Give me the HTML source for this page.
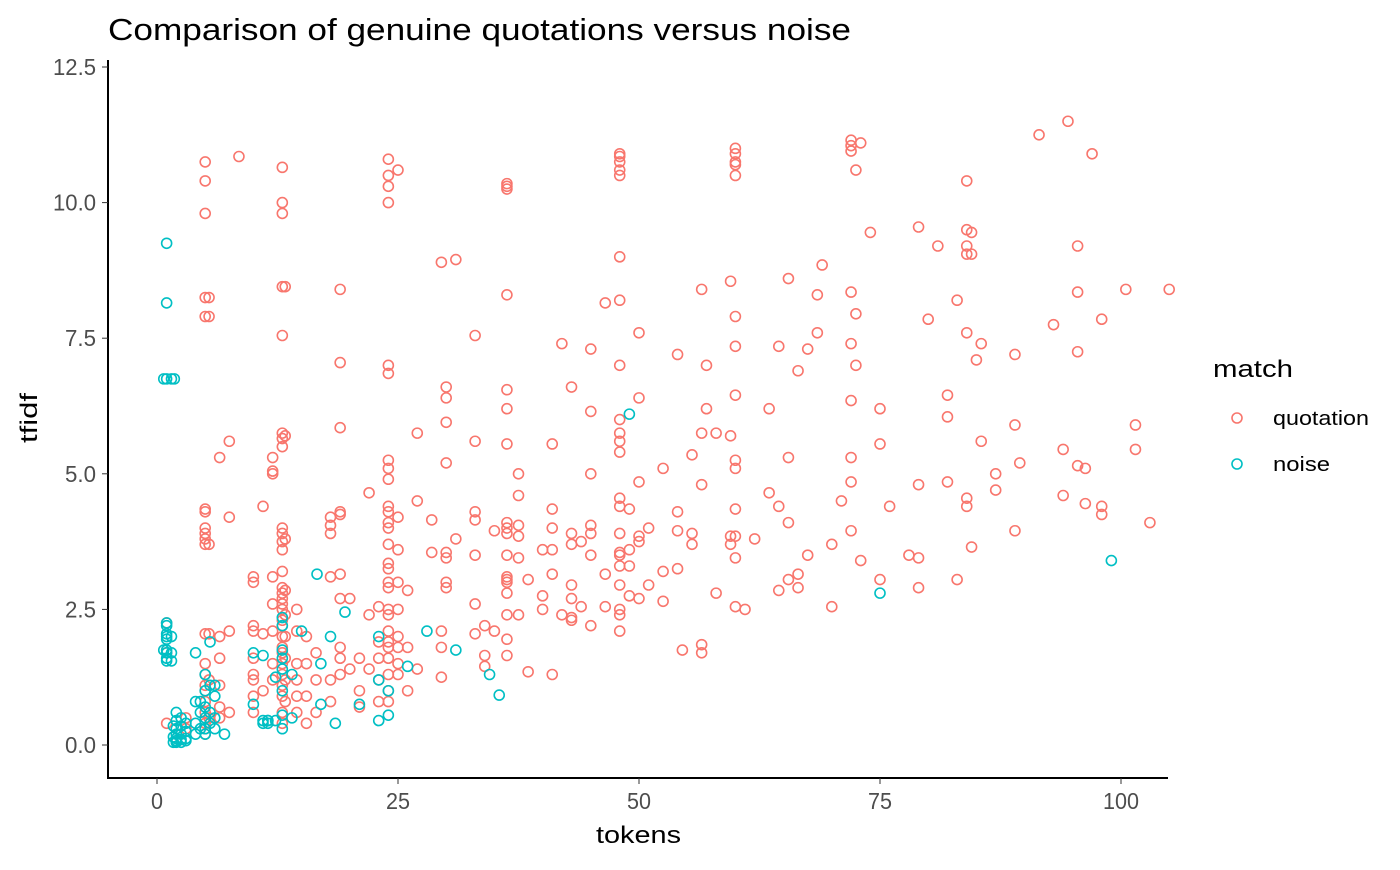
<!DOCTYPE html>
<html><head><meta charset="utf-8"><style>
html,body{margin:0;padding:0;background:#fff;}
svg text{font-family:"Liberation Sans",Arial,sans-serif;}
</style></head><body>
<svg id="chart" width="1400" height="865" viewBox="0 0 1400 865" xmlns="http://www.w3.org/2000/svg">
<text x="108" y="40" font-size="31" textLength="743" lengthAdjust="spacingAndGlyphs" fill="#000">Comparison of genuine quotations versus noise</text>
<g id="plot"></g>
<line x1="108" y1="60" x2="108" y2="778" stroke="#000" stroke-width="2"/>
<line x1="107" y1="778" x2="1168" y2="778" stroke="#000" stroke-width="2"/>
<g id="yticks"></g>
<g id="xticks"></g>
<text x="596" y="843" font-size="24" textLength="85" lengthAdjust="spacingAndGlyphs" fill="#000">tokens</text>
<text transform="translate(37,443) rotate(-90)" font-size="24" textLength="50" lengthAdjust="spacingAndGlyphs" fill="#000">tfidf</text>
<g>
<text x="1213" y="377" font-size="24" textLength="80" lengthAdjust="spacingAndGlyphs" fill="#000">match</text>
<g><circle cx="1237" cy="418" r="5" fill="none" stroke="#F8766D" stroke-width="1.6"/><text x="1273" y="425" font-size="20" textLength="96" lengthAdjust="spacingAndGlyphs" fill="#000">quotation</text></g>
<g><circle cx="1237" cy="464" r="5" fill="none" stroke="#00BFC4" stroke-width="1.6"/><text x="1273" y="471" font-size="20" textLength="57" lengthAdjust="spacingAndGlyphs" fill="#000">noise</text></g>
</g>
</svg>
<script>
const xTicks=[0,25,50,75,100];
const yTicks=[0,2.5,5,7.5,10,12.5];
const yTickLabels=["0.0","2.5","5.0","7.5","10.0","12.5"];
const quoteCols=[
[5,[10.75,10.4,9.8,8.25,7.9,4.35,4.3,4.0,3.9,3.7,3.8,2.05,1.5,1.3,1.1,1.0,0.8,0.6,0.4,0.3,0.2]],
[5.4,[8.25,7.9,3.7,2.05,1.2,0.5]],
[8.5,[10.85]],[7.5,[5.6,4.2,2.1,0.6]],[6.5,[5.3,2.0,1.6,1.1,0.7,0.5]],[1,[2.25,1.7,0.4]],[3,[0.5,0.3]],
[13,[10.65,10.0,9.8,8.45,7.55,5.75,5.65,5.5,4.0,3.9,3.75,3.6,3.2,2.9,2.8,2.7,2.6,2.5,2.3,2.2,2.0,1.8,1.7,1.5,1.3,1.1,0.9,0.6,0.4]],
[13.3,[8.45,5.7,3.8,2.85,2.4,2.0,1.6,1.2,0.8]],
[12,[5.3,5.05,5.0,3.1,2.6,2.1,1.5,1.2]],[10,[3.1,3.0,2.2,2.1,1.6,1.3,1.2,0.9,0.6]],[11,[4.4,2.05,1.0]],
[14.5,[2.5,2.1,1.5,1.2,0.9,0.6]],[15.5,[1.5,0.9,0.4,2.0]],[16.5,[1.2,0.6,1.7]],
[19,[8.4,7.05,5.85,4.3,4.25,3.15,2.7,1.8,1.6,1.3]],[18,[4.2,4.05,3.9,3.1,1.2,0.8]],[20,[2.7,1.4]],[21,[1.0,1.6,0.7]],[22,[4.65,2.4,1.4]],
[24,[10.8,10.5,10.3,10.0,7.0,6.85,5.25,5.1,4.9,4.4,4.3,4.1,4.0,3.7,3.35,3.25,3.0,2.9,2.5,2.4,2.1,1.9,1.8,1.6,1.3,1.0,0.8]],
[25,[10.6,4.2,3.6,3.0,2.5,2.0,1.8,1.5,1.3]],[23,[2.55,1.9,1.6,1.2,0.8]],[26,[2.85,1.8,1.0]],
[29.5,[8.9,2.1,1.8,1.25]],[31,[8.95,3.8]],[30,[6.6,6.4,5.95,5.2,3.55,3.45,3.0,2.9]],[27,[5.75,4.5,1.4]],[28.5,[4.15,3.55]],
[33,[7.55,5.6,4.3,4.15,3.5,2.6,2.05]],[34,[2.2,1.45,1.65]],[35,[3.95,2.1]],
[36.3,[10.35,10.3,10.25,8.3,6.55,6.2,5.55,4.1,4.0,3.9,3.5,3.1,3.05,3.0,2.8,2.4,1.95,1.65]],
[37.5,[5.0,4.6,4.05,3.85,3.45,2.4]],[38.5,[3.05,1.35]],[40,[2.75,2.5,3.6]],
[41,[5.55,4.35,4.0,3.6,3.15,1.3]],[42,[7.4,2.4]],[43,[6.6,3.9,3.7,2.95,2.7,2.35,2.3]],[44,[2.55,3.75]],
[45,[7.3,6.15,5.0,4.05,3.9,3.5,2.2]],[46.5,[8.15,3.15,2.55]],
[48,[10.9,10.85,10.75,10.6,10.5,9.0,8.2,7.0,6.0,5.75,5.6,5.4,4.55,4.4,3.9,3.55,3.5,3.3,2.95,2.5,2.4,2.1]],
[49,[4.35,3.6,3.3,2.75]],[50,[7.6,6.4,4.85,3.85,3.75,2.7]],[51,[4.0,2.95]],[52.5,[5.1,3.2,2.65]],
[54,[7.2,4.3,3.25,3.95]],[54.5,[1.75]],[55.5,[5.35,3.7,3.9]],[56.5,[8.4,5.75,4.8,1.85,1.7]],[57,[7.0,6.2]],[58,[5.75,2.8]],
[59.5,[8.55,5.7,3.7,3.85]],[60,[11.0,10.9,10.75,10.7,10.5,7.9,7.35,6.45,5.25,5.1,4.35,3.85,3.45,2.55]],
[61,[2.5]],[62,[3.8]],[63.5,[4.65,6.2]],[64.5,[7.35,4.4,2.85]],[65.5,[8.6,5.3,4.1,3.05]],[66.5,[6.9,3.15,2.9]],
[67.5,[7.3,3.5]],[68.5,[7.6,8.3]],[69,[8.85]],[70,[2.55,3.7]],[71,[4.5]],
[72,[11.15,11.05,10.95,8.35,7.4,6.35,5.3,4.85,3.95]],[72.5,[10.6,7.95,7.0]],[73,[11.1,3.4]],[74,[9.45]],
[75,[5.55,6.2,3.05]],[76,[4.4]],[78,[3.5]],[79,[9.55,4.8,2.9,3.45]],[80,[7.85]],[81,[9.2]],[82,[6.45,6.05,4.85]],
[83,[8.2,3.05]],[84,[10.4,9.5,9.2,9.05,7.6,4.55,4.4]],[84.5,[3.65,9.45,9.05]],[85,[7.1]],[85.5,[7.4,5.6]],[87,[4.7,5.0]],
[89,[7.2,5.9,3.95]],[89.5,[5.2]],[91.5,[11.25]],[93,[7.75]],[94,[4.6,5.45]],[94.5,[11.5]],[95.5,[8.35,7.25,9.2,5.15]],
[96.3,[4.45,5.1]],[97,[10.9]],[98,[4.25,7.85,4.4]],[100.5,[8.4]],[101.5,[5.9,5.45]],[103,[4.1]],[105,[8.4]]
];
const noiseCols=[
[1,[9.25,8.15,6.75,2.25,2.2,2.05,2.0,1.95,1.75,1.7,1.6,1.55]],[1.5,[6.75,2.0,1.55,1.7]],[0.7,[6.75,1.75]],[1.8,[6.75]],
[2,[0.6,0.45,0.3,0.2,0.12,0.08,0.05]],[2.5,[0.5,0.35,0.2,0.1,0.05]],[3,[0.4,0.25,0.12,0.08]],[1.7,[0.35,0.15,0.05]],
[4,[1.7,0.8,0.4,0.2]],[4.5,[0.6,0.3,0.8]],[5,[1.0,0.7,0.5,0.3,0.2,1.3]],[5.5,[1.9,1.1,0.6,0.4]],[6,[0.9,0.5,0.3,1.1]],[7,[0.2]],
[10,[1.7,0.75]],[11,[1.65,0.45,0.4]],[11.5,[0.45,0.4,0.45]],[12.3,[0.45,1.25]],
[13,[2.35,2.2,1.75,1.6,1.4,1.0,0.55,0.3]],[14,[0.5,1.3]],[15,[2.1]],[16.6,[3.15]],[17,[1.5,0.75]],[18,[2.0]],
[18.5,[0.4]],[19.5,[2.45]],[21,[0.75]],[23,[2.0,0.45,1.2]],[24,[1.0,0.55]],[26,[1.45]],[28,[2.1]],[31,[1.75]],
[34.5,[1.3]],[35.5,[0.92]],[49,[6.1]],[75,[2.8]],[99,[3.4]]
];
const NS="http://www.w3.org/2000/svg";
const xs=v=>157+v*9.64, ys=v=>745-v*54.24;
const plot=document.getElementById('plot');
function draw(cols,color,name){
  cols.forEach(([x,yl])=>yl.forEach(y=>{
    const c=document.createElementNS(NS,'circle');
    c.setAttribute('cx',xs(x));c.setAttribute('cy',ys(y));c.setAttribute('r',5);
    c.setAttribute('fill','none');c.setAttribute('stroke',color);c.setAttribute('stroke-width',1.6);
    
    
    plot.appendChild(c);
  }));
}
draw(quoteCols,'#F8766D','quotation-point');
draw(noiseCols,'#00BFC4','noise-point');
const yg=document.getElementById('yticks');
yTicks.forEach((v,i)=>{
  const l=document.createElementNS(NS,'line');
  l.setAttribute('x1',102);l.setAttribute('x2',108);l.setAttribute('y1',ys(v));l.setAttribute('y2',ys(v));l.setAttribute('stroke','#333');
  
  
  yg.appendChild(l);
  const lab=yTickLabels[i];
  const t=document.createElementNS(NS,'text');
  t.setAttribute('x',96);t.setAttribute('y',ys(v)+8);t.setAttribute('text-anchor','end');t.setAttribute('font-size',23);t.setAttribute('fill','#4d4d4d');
  t.setAttribute('textLength',lab.length===4?43:31);t.setAttribute('lengthAdjust','spacingAndGlyphs');
  t.textContent=lab;
  
  
  yg.appendChild(t);
});
const xg=document.getElementById('xticks');
xTicks.forEach(v=>{
  const l=document.createElementNS(NS,'line');
  l.setAttribute('x1',xs(v));l.setAttribute('x2',xs(v));l.setAttribute('y1',778);l.setAttribute('y2',784);l.setAttribute('stroke','#333');
  
  
  xg.appendChild(l);
  const s=String(v);
  const t=document.createElementNS(NS,'text');
  t.setAttribute('x',xs(v)-s.length*6);t.setAttribute('y',809);t.setAttribute('font-size',23);t.setAttribute('fill','#4d4d4d');
  t.setAttribute('textLength',s.length*12);t.setAttribute('lengthAdjust','spacingAndGlyphs');
  t.textContent=s;
  
  
  xg.appendChild(t);
});
</script>
</body></html>
